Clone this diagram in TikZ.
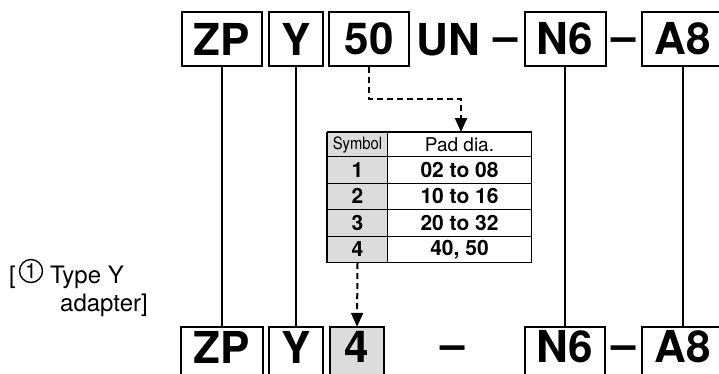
\documentclass[tikz,border=0pt]{standalone}
\usepackage{fontspec}
\setmainfont{TeX Gyre Heros}
\usetikzlibrary{arrows.meta,backgrounds}
\definecolor{cellgrey}{HTML}{DCDCDC}
\tikzset{
  codebox/.style={draw, line width=2pt, minimum height=54pt, inner sep=0pt,
    font=\fontsize{44}{44}\selectfont\bfseries},
  botbox/.style={inner sep=0pt, minimum height=40pt,
    font=\fontsize{44}{44}\selectfont\bfseries},
  codetext/.style={inner sep=0pt, anchor=base, font=\fontsize{44}{44}\selectfont\bfseries},
  link/.style={line width=2pt},
  dlink/.style={line width=2pt, dash pattern=on 6pt off 4pt},
  darrow/.style={dlink, -{Triangle[width=12pt,length=14pt]}},
  cell/.style={draw, line width=1pt, inner sep=0pt, anchor=north west},
  symcell/.style={cell, fill=cellgrey, minimum width=60pt},
  padcell/.style={cell, minimum width=144pt},
  rowtext/.style={font=\fontsize{21}{21}\selectfont\bfseries, minimum height=26.5pt},
  label/.style={anchor=base west, inner sep=0pt, font=\fontsize{24}{24}\selectfont},
  circnum/.style={draw, circle, line width=1.4pt, inner sep=0pt, minimum size=23pt,
    font=\fontsize{21}{21}\selectfont},
}
\begin{document}
\begin{tikzpicture}[x=1pt, y=-1pt]
\useasboundingbox (0,0) rectangle (719,373);
\clip (0,0) rectangle (719,373);

% top row
\node[codebox, minimum width=80pt] (tZP) at (222,39) {ZP};
\node[codebox, minimum width=54pt] (tY) at (296,39) {Y};
\node[codebox, minimum width=80pt] (t50) at (369,39) {50};
\node[codetext] (tUN) at (448,55) {UN};
\node[codetext] (td1) at (506,51) {–};
\node[codebox, minimum width=81pt] (tN6) at (565,39) {N6};
\node[codetext] (td2) at (623.5,51) {–};
\node[codebox, minimum width=81pt] (tA8) at (682.5,39) {A8};

% bottom row (boxes run past the lower edge)
\node[botbox, minimum width=81pt] (bZP) at (222,347) {ZP};
\node[botbox, minimum width=53pt] (bY) at (296,347) {Y};
\node[botbox, minimum width=54pt] (b4) at (357,347) {4};
\node[codetext] (bd1) at (453,359) {–};
\node[botbox, minimum width=79pt] (bN6) at (565,347) {N6};
\node[codetext] (bd2) at (624,359) {–};
\node[botbox, minimum width=80pt] (bA8) at (682.5,347) {A8};
\begin{scope}[on background layer]
  \fill[cellgrey] (b4.north west) rectangle ([yshift=-12pt]b4.south east);
\end{scope}
\foreach \b in {bZP,bY,b4,bN6,bA8}
  \draw[link] ([yshift=-12pt]\b.south west) |- (\b.north east) -- ([yshift=-12pt]\b.south east);

% table
\node[symcell, minimum height=24pt] (hS) at (327,132)
  {\fontsize{17}{17}\selectfont\scalebox{0.87}[1]{Symbol}};
\node[padcell, minimum height=24pt] (hP) at (387,132)
  {\fontsize{19}{19}\selectfont Pad dia.};
\node[symcell, rowtext] (s1) at (327,156) {1};
\node[padcell, rowtext] (p1) at (387,156) {02 to 08};
\node[symcell, rowtext] (s2) at (327,182.5) {2};
\node[padcell, rowtext] (p2) at (387,182.5) {10 to 16};
\node[symcell, rowtext] (s3) at (327,209) {3};
\node[padcell, rowtext] (p3) at (387,209) {20 to 32};
\node[symcell, rowtext] (s4) at (327,235.5) {4};
\node[padcell, rowtext] (p4) at (387,235.5) {40, 50};
\draw[line width=2pt] (hS.north west) -- (hP.north east);
\draw[line width=1.5pt] (hS.north west) -- (s4.south west);

% connectors
\draw[link] (tZP.south) -- (bZP.north);
\draw[link] (tY.south) -- (bY.north);
\draw[link] (tN6.south) -- (bN6.north);
\draw[link] (tA8.south) -- (bA8.north);
\coordinate (tin) at (461,132);
\draw[darrow] (t50.south) -- ++(0,32) -| (tin);
\draw[darrow] (s4.south) -- (b4.north);

% label
\node[label] (lbr) at (9,283) {[};
\node[circnum] (lc) at (31,271) {1};
\node[label] (lab1) at (50,283) {Type Y};
\node[label] (lab2) at (60,311) {adapter]};
\end{tikzpicture}
\end{document}
